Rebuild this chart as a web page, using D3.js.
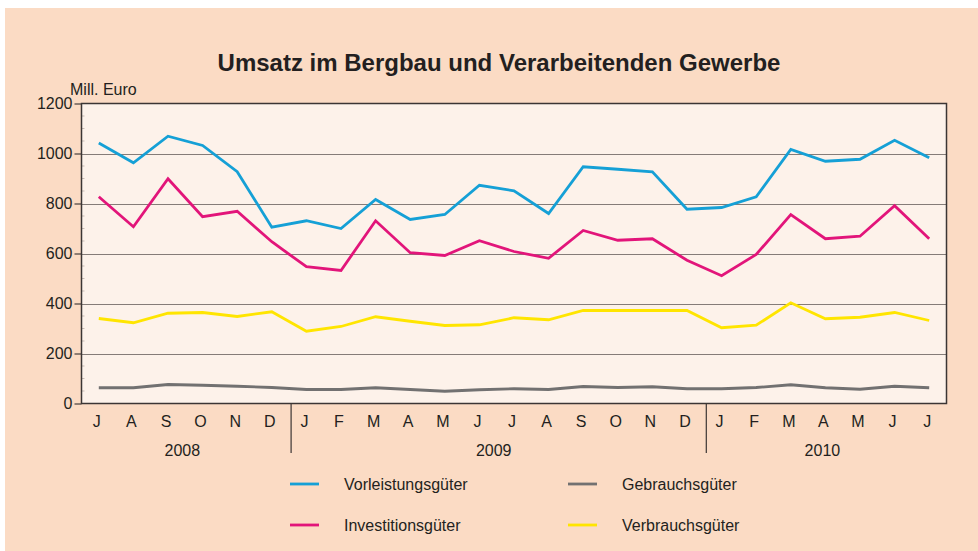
<!DOCTYPE html>
<html>
<head>
<meta charset="utf-8">
<script src="https://cdn.jsdelivr.net/npm/d3@7"></script>
<style>
  body { margin: 0; background: #fff; }
  text { font-family: "Liberation Sans", Arial, sans-serif; fill: #231f20; }
</style>
</head>
<body>
<script>
var months = ['J','A','S','O','N','D','J','F','M','A','M','J','J','A','S','O','N','D','J','F','M','A','M','J','J'];
var years = [
  {label: '2008', from: 0, to: 6},
  {label: '2009', from: 6, to: 18},
  {label: '2010', from: 18, to: 25}
];
var yTicks = [0, 200, 400, 600, 800, 1000, 1200];

var vorleistung = [1042, 963, 1069, 1032, 927, 705, 731, 700, 816, 736, 756, 873, 851, 760, 947, 937, 927, 777, 784, 827, 1016, 969, 977, 1053, 983];
var investition = [827, 707, 899, 747, 769, 647, 547, 532, 731, 603, 592, 651, 608, 581, 692, 653, 659, 573, 511, 596, 756, 659, 669, 791, 659];
var gebrauch = [63, 63, 76, 73, 69, 64, 56, 56, 63, 56, 49, 55, 59, 56, 68, 64, 67, 59, 59, 64, 75, 63, 57, 69, 63];
var verbrauch = [340, 323, 361, 364, 348, 367, 289, 308, 347, 329, 312, 315, 343, 335, 372, 372, 372, 372, 303, 313, 403, 339, 345, 364, 332];

var series = [
  {name: 'Gebrauchsgüter', values: gebrauch, color: '#727171'},
  {name: 'Verbrauchsgüter', values: verbrauch, color: '#ffe500'},
  {name: 'Investitionsgüter', values: investition, color: '#e2157a'},
  {name: 'Vorleistungsgüter', values: vorleistung, color: '#15a0d6'}
];
var legendItems = [
  {name: 'Vorleistungsgüter', color: '#15a0d6', col: 0, row: 0},
  {name: 'Gebrauchsgüter', color: '#727171', col: 1, row: 0},
  {name: 'Investitionsgüter', color: '#e2157a', col: 0, row: 1},
  {name: 'Verbrauchsgüter', color: '#ffe500', col: 1, row: 1}
];

var width = 978, height = 551;
var plot = {left: 81.5, top: 103.5, right: 946.5, bottom: 403.5};

var svg = d3.select('body').append('svg')
  .attr('width', width)
  .attr('height', height);

// peach background
svg.append('rect')
  .attr('x', 5).attr('y', 8)
  .attr('width', width - 5).attr('height', height - 8)
  .attr('fill', '#fbdbc4');

svg.append('rect')
  .attr('x', plot.left).attr('y', plot.top)
  .attr('width', plot.right - plot.left).attr('height', plot.bottom - plot.top)
  .attr('fill', '#fdf2ea');

var x = d3.scaleBand()
  .domain(d3.range(months.length))
  .range([plot.left, plot.right]);

var y = d3.scaleLinear()
  .domain([0, 1200])
  .range([plot.bottom, plot.top]);

// grid lines
svg.selectAll('.grid')
  .data(yTicks.filter(function(d) { return d > 0 && d < 1200; }))
  .enter().append('line')
  .attr('x1', plot.left).attr('x2', plot.right)
  .attr('y1', function(d) { return Math.round(y(d)) + 0.5; })
  .attr('y2', function(d) { return Math.round(y(d)) + 0.5; })
  .attr('stroke', '#857c78')
  .attr('stroke-width', 1.2);

// minor ticks inside y axis
svg.selectAll('.minor')
  .data(d3.range(50, 1200, 50).filter(function(d) { return d % 200 !== 0; }))
  .enter().append('line')
  .attr('x1', plot.left).attr('x2', plot.left + 3)
  .attr('y1', function(d) { return y(d); })
  .attr('y2', function(d) { return y(d); })
  .attr('stroke', '#c9bdb5')
  .attr('stroke-width', 1);

// y axis
var yAxis = d3.axisLeft(y).tickValues(yTicks).tickFormat(d3.format('d')).tickSize(7).tickPadding(2);
var gy = svg.append('g')
  .attr('transform', 'translate(' + plot.left + ',0)')
  .call(yAxis);
gy.select('.domain').remove();
gy.selectAll('line').attr('stroke', '#231f20');
gy.selectAll('text')
  .style('font-size', '16px')
  .attr('fill', '#231f20')
  .attr('font-family', '"Liberation Sans", Arial, sans-serif');

// frame
svg.append('rect')
  .attr('x', plot.left).attr('y', plot.top)
  .attr('width', plot.right - plot.left).attr('height', plot.bottom - plot.top)
  .attr('fill', 'none')
  .attr('stroke', '#3b3534')
  .attr('stroke-width', 1.5);

// lines
var line = d3.line()
  .x(function(d, i) { return x(i) + x.bandwidth() / 2; })
  .y(function(d) { return y(d); });

svg.selectAll('.series')
  .data(series)
  .enter().append('path')
  .attr('d', function(d) { return line(d.values); })
  .attr('fill', 'none')
  .attr('stroke', function(d) { return d.color; })
  .attr('stroke-width', 2.8)
  .attr('stroke-linejoin', 'miter');

// month labels
svg.selectAll('.month')
  .data(months)
  .enter().append('text')
  .attr('x', function(d, i) { return x(i) + x.bandwidth() / 2 - 2; })
  .attr('y', 427)
  .attr('text-anchor', 'middle')
  .style('font-size', '16px')
  .text(function(d) { return d; });

// year separators
svg.selectAll('.sep')
  .data(years.slice(1))
  .enter().append('line')
  .attr('x1', function(d) { return x(d.from) + 2; })
  .attr('x2', function(d) { return x(d.from) + 2; })
  .attr('y1', plot.bottom)
  .attr('y2', 453)
  .attr('stroke', '#3b3534')
  .attr('stroke-width', 1.2);

svg.selectAll('.year')
  .data(years)
  .enter().append('text')
  .attr('x', function(d) {
    return (x(d.from) + x(d.to - 1) + x.bandwidth()) / 2 - 3;
  })
  .attr('y', 456)
  .attr('text-anchor', 'middle')
  .style('font-size', '16px')
  .text(function(d) { return d.label; });

// title
svg.append('text')
  .attr('x', 499)
  .attr('y', 71)
  .attr('text-anchor', 'middle')
  .style('font-size', '24px')
  .style('font-weight', 'bold')
  .text('Umsatz im Bergbau und Verarbeitenden Gewerbe');

svg.append('text')
  .attr('x', 70)
  .attr('y', 95)
  .style('font-size', '16px')
  .text('Mill. Euro');

// legend
var legend = svg.selectAll('.legend')
  .data(legendItems)
  .enter().append('g')
  .attr('transform', function(d) {
    return 'translate(' + (290 + d.col * 278) + ',' + (484 + d.row * 41) + ')';
  });

legend.append('line')
  .attr('x1', 0).attr('x2', 29)
  .attr('y1', 0).attr('y2', 0)
  .attr('stroke', function(d) { return d.color; })
  .attr('stroke-width', 2.8);

legend.append('text')
  .attr('x', 54)
  .attr('y', 6)
  .style('font-size', '16px')
  .text(function(d) { return d.name; });
</script>
</body>
</html>
